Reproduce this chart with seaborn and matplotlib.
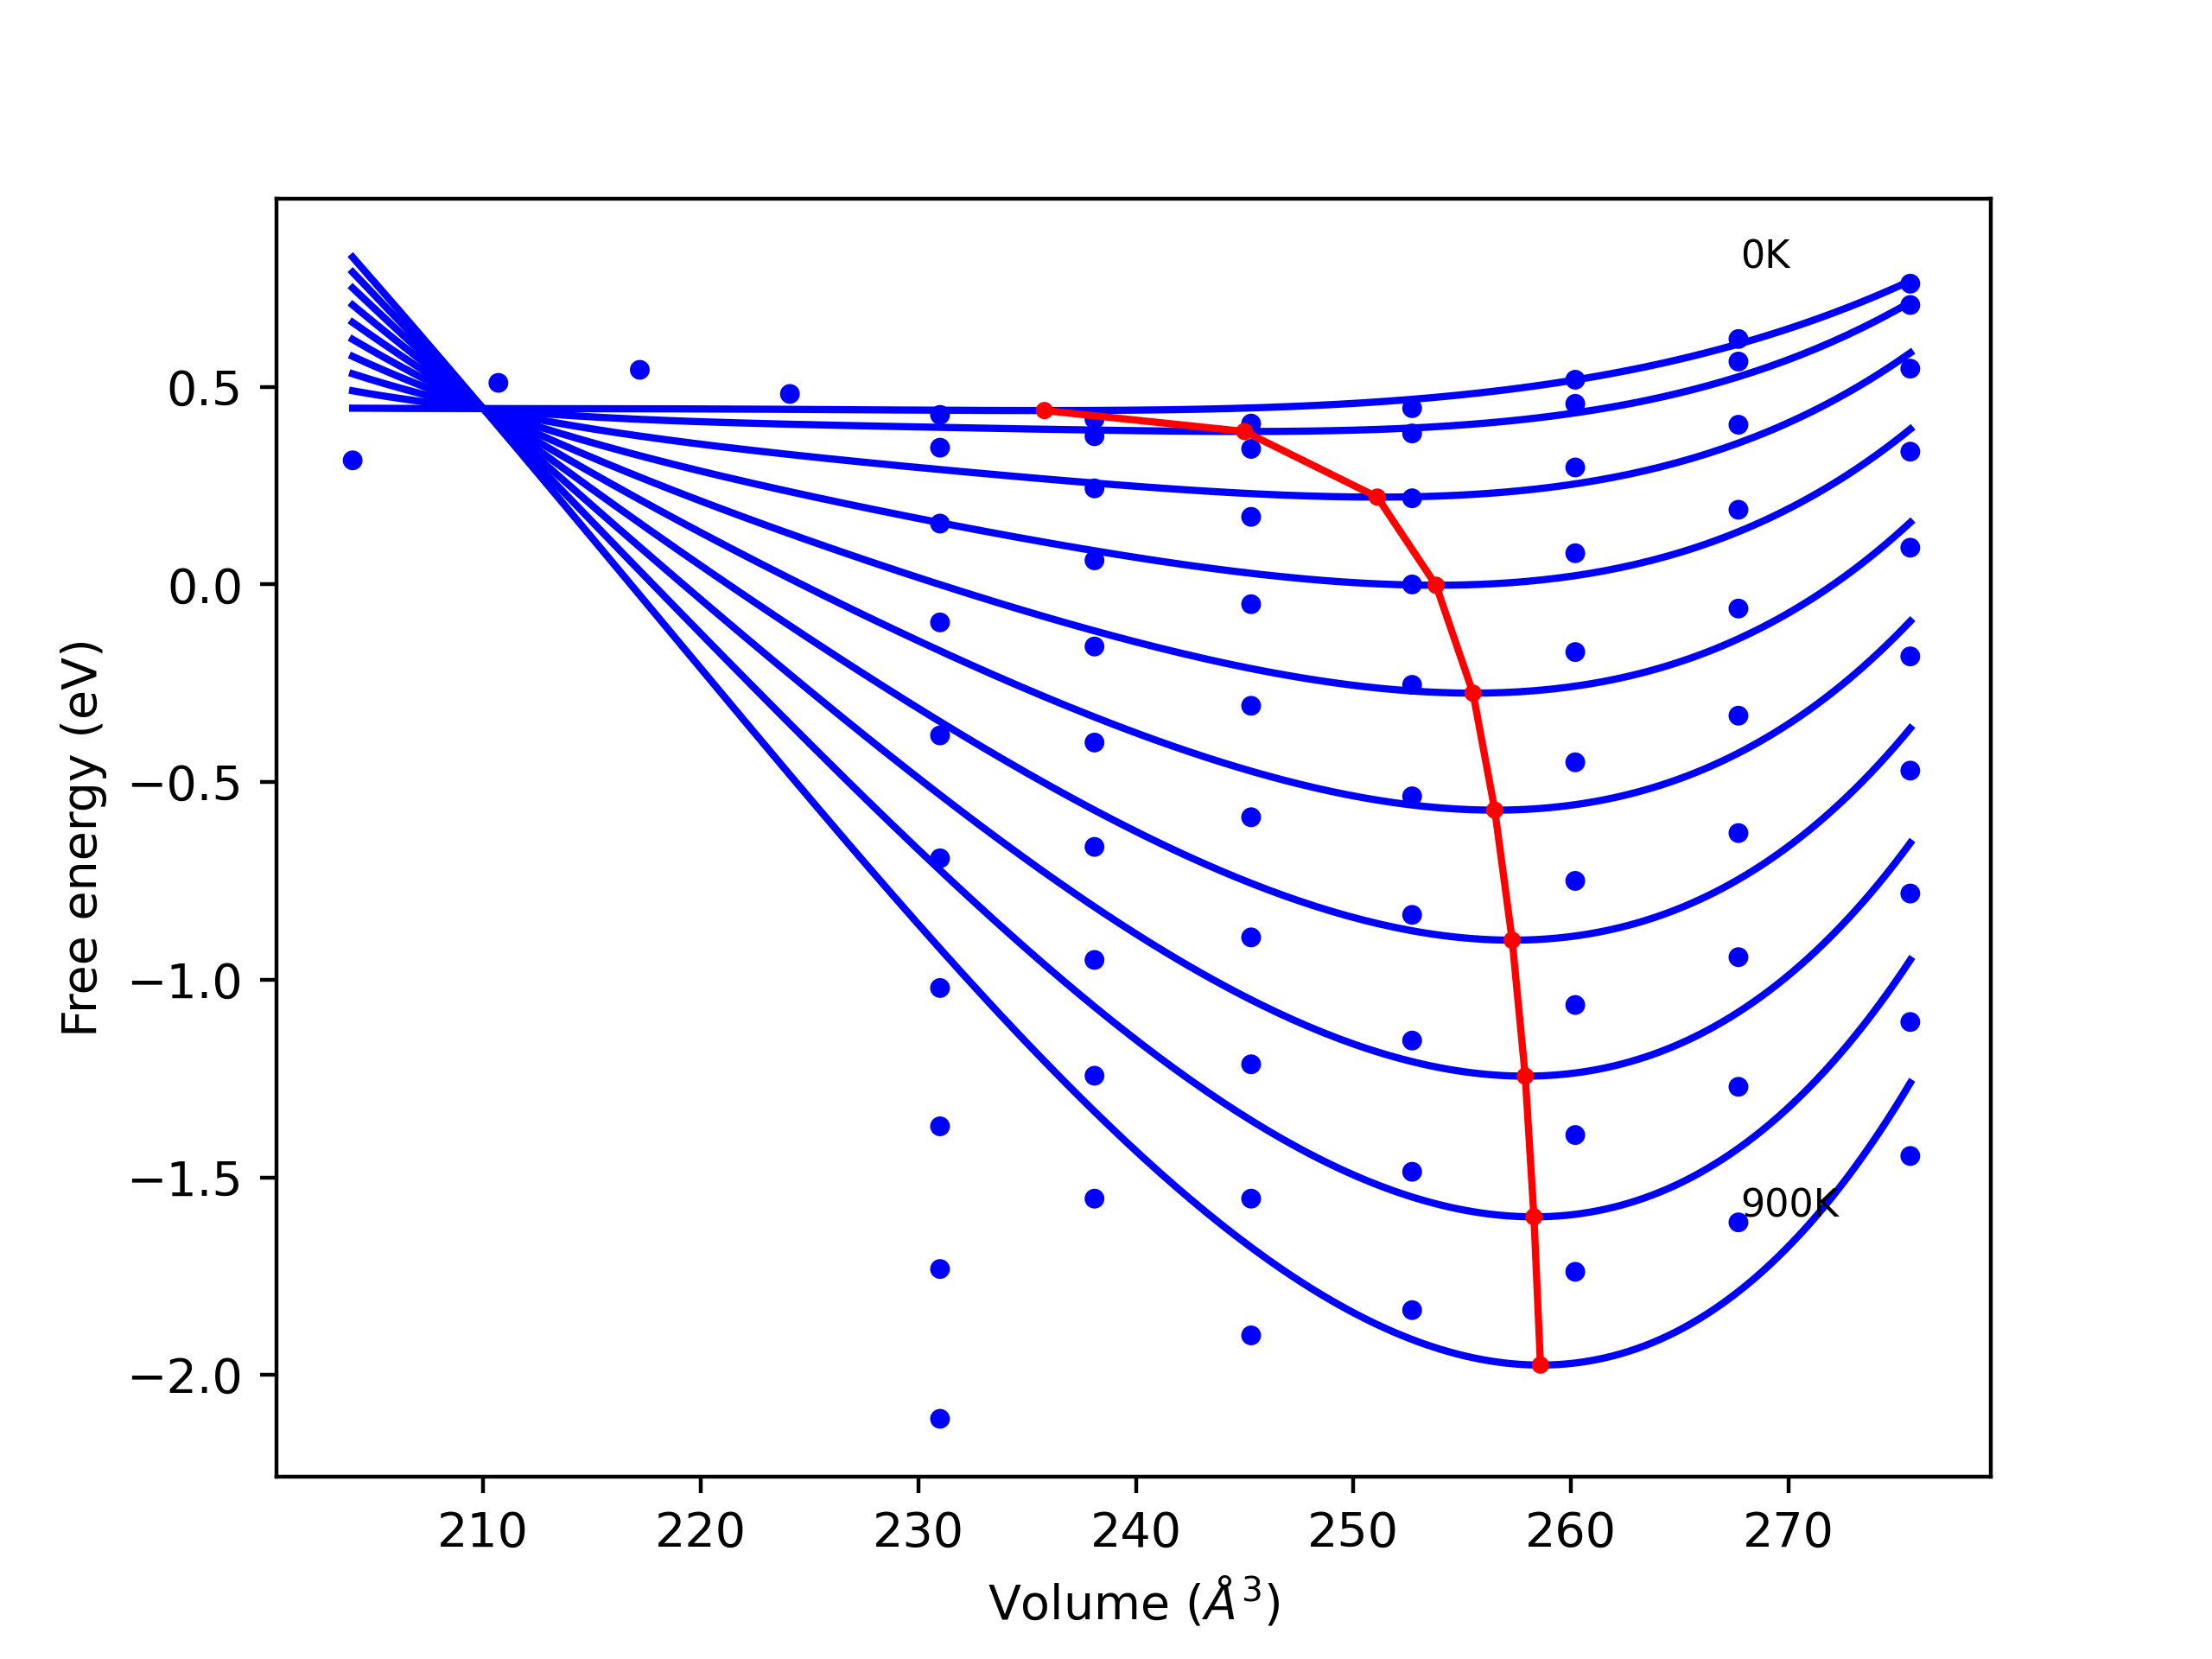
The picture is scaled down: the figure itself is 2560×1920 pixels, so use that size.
import numpy as np
import pandas as pd
import matplotlib
matplotlib.use("Agg")
import matplotlib.pyplot as plt
import seaborn as sns

# Temperatures (K)
temps = [0, 100, 200, 300, 400, 500, 600, 700, 800, 900]

# Computed free energies (eV) at each volume, one value per temperature
volumes = [231.0, 238.1, 245.3, 252.7, 260.2, 267.7, 275.6]
energies = {
    231.0: [0.429, 0.346, 0.154, -0.096, -0.382, -0.693, -1.021, -1.371, -1.732, -2.111],
    238.1: [0.418, 0.375, 0.243, 0.061, -0.157, -0.400, -0.664, -0.950, -1.243, -1.554],
    245.3: [0.407, 0.343, 0.171, -0.050, -0.307, -0.589, -0.893, -1.214, -1.554, -1.900],
    252.7: [0.446, 0.382, 0.218, 0.000, -0.254, -0.536, -0.836, -1.154, -1.486, -1.836],
    260.2: [0.518, 0.457, 0.296, 0.079, -0.171, -0.450, -0.750, -1.064, -1.393, -1.739],
    267.7: [0.621, 0.564, 0.404, 0.189, -0.061, -0.332, -0.629, -0.943, -1.271, -1.614],
    275.6: [0.761, 0.707, 0.546, 0.336, 0.093, -0.182, -0.471, -0.782, -1.107, -1.446],
}
# extra low-volume points
low_vol = [204.0, 210.7, 217.2, 224.1]
low_e = [0.314, 0.510, 0.543, 0.482]

# Fitted curves: end points, common crossing, and minima
v_left, v_pivot, v_right = 204.0, 210.0, 275.6
e_pivot = 0.445
e_left = [0.446, 0.49, 0.533, 0.577, 0.62, 0.663, 0.707, 0.75, 0.79, 0.828]
e_right = [0.768, 0.714, 0.586, 0.393, 0.157, -0.093, -0.364, -0.654, -0.95, -1.261]
v_min = [235.8, 245.0, 251.1, 253.8, 255.5, 256.5, 257.3, 257.9, 258.3, 258.6]
e_min = [0.440, 0.387, 0.221, -0.002, -0.275, -0.571, -0.900, -1.244, -1.600, -1.975]

fig, ax = plt.subplots(figsize=(6.4, 4.8))

vv = np.linspace(v_left, v_right, 200)
for i in range(len(temps)):
    # quartic through left, pivot, min (zero slope) and right
    c0 = 240.0
    def row(v):
        x = v - c0
        return [x**4, x**3, x**2, x, 1]
    xm = v_min[i] - c0
    A = [row(v_left), row(v_pivot), row(v_min[i]), [4*xm**3, 3*xm**2, 2*xm, 1, 0], row(v_right)]
    b = [e_left[i], e_pivot, e_min[i], 0, e_right[i]]
    coef = np.linalg.solve(np.array(A), np.array(b))
    curve = pd.DataFrame({"V": vv, "F": np.polyval(coef, vv - c0)})
    sns.lineplot(data=curve, x="V", y="F", color="blue", lw=1.5, sort=False, ax=ax)

pts = pd.DataFrame(
    [(v, e) for v in volumes for e in energies[v]] + list(zip(low_vol, low_e)),
    columns=["V", "F"],
)
sns.scatterplot(data=pts, x="V", y="F", color="blue", s=17, edgecolor="none", ax=ax, zorder=3)

mins = pd.DataFrame({"V": v_min, "F": e_min})
ax.plot(mins["V"], mins["F"], "r-", lw=1.5, zorder=4)
sns.scatterplot(data=mins, x="V", y="F", color="red", s=13, edgecolor="none", ax=ax, zorder=5)

ax.text(267.8, 0.8, "0K", fontsize=8)
ax.text(267.8, -1.6, "900K", fontsize=8)

ax.set_xlim(200.5, 279.3)
ax.set_ylim(-2.257, 0.975)
ax.set_xlabel("Volume ($\\AA^3$)")
ax.set_ylabel("Free energy (eV)")

fig.savefig("out.png", dpi=400)
